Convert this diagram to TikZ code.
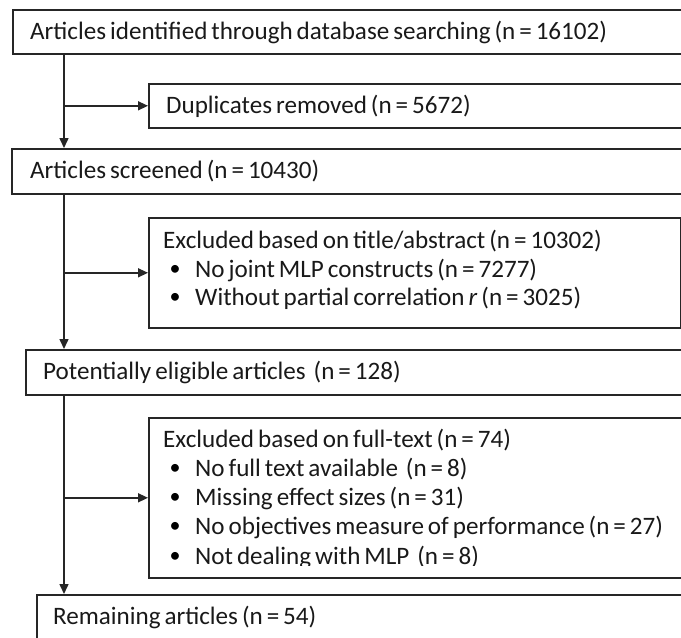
\documentclass[tikz,border=0pt]{standalone}
\usepackage{fontspec}
\setmainfont{Carlito}[WordSpace=0.7]
\usetikzlibrary{arrows.meta}
\begin{document}
\begin{tikzpicture}[x=1pt,y=-1pt,
  box/.style={draw=black!85,line width=1.6pt,rectangle,anchor=north west,inner sep=0pt},
  txt/.style={anchor=west,inner sep=0pt,font=\fontsize{25.1}{28}\selectfont,text=black!90},
  dot/.style={anchor=center,inner sep=0pt,font=\fontsize{22}{26}\selectfont},
  arr/.style={draw=black!85,line width=1.5pt,-{Triangle[length=10pt,width=9pt]}},
]
\useasboundingbox (0,0) rectangle (681,638);
\clip (0,0) rectangle (681,638);

% boxes
\node[box,minimum width=690pt,minimum height=44pt] (b1) at (12,9) {};
\node[box,minimum width=560pt,minimum height=44pt] (b2) at (148,83) {};
\node[box,minimum width=690pt,minimum height=45pt] (b3) at (11,148) {};
\node[box,minimum width=532pt,minimum height=110pt] (b4) at (148,217) {};
\node[box,minimum width=680pt,minimum height=45pt] (b5) at (25,349) {};
\node[box,minimum width=560pt,minimum height=160pt] (b6) at (148,417) {};
\node[box,minimum width=680pt,minimum height=60pt] (b7) at (36,594) {};

% texts
\node[txt] (t1) at (30,32) {Articles identified through database searching (n = 16102)};
\node[txt] (t2) at (166,106) {Duplicates removed (n = 5672)};
\node[txt] (t3) at (30,171) {Articles screened (n = 10430)};
\node[txt] (t4a) at (163,241) {Excluded based on title/abstract (n = 10302)};
\node[dot] (d4b) at (175,270) {\textbullet};
\node[txt] (t4b) at (195,270) {No joint MLP constructs (n = 7277)};
\node[dot] (d4c) at (175,298) {\textbullet};
\node[txt] (t4c) at (195,298) {Without partial correlation \textit{r} (n = 3025)};
\node[txt] (t5) at (43,372) {Potentially eligible articles\ \ (n = 128)};
\node[txt] (t6a) at (163,440) {Excluded based on full-text (n = 74)};
\node[dot] (d6b) at (175,469) {\textbullet};
\node[txt] (t6b) at (195,469) {No full text available\ \ (n = 8)};
\node[dot] (d6c) at (175,498) {\textbullet};
\node[txt] (t6c) at (195,498) {Missing effect sizes (n = 31)};
\node[dot] (d6d) at (175,527) {\textbullet};
\node[txt] (t6d) at (195,527) {No objectives measure of performance (n = 27)};
% the last line is cut off just above the box edge
\begin{scope}
  \clip (148,417) rectangle (681,565);
  \node[dot] (d6e) at (175,557) {\textbullet};
  \node[txt] (t6e) at (195,557) {Not dealing with MLP\ \ (n = 8)};
\end{scope}
\node[txt] (t7) at (53,617) {Remaining articles (n = 54)};

% main flow line and branches
\coordinate (spine) at (64,0);
\draw[arr] (b1.south -| spine) -- (b3.north -| spine);
\draw[arr] (spine |- b2.west) -- (b2.west);
\draw[arr] (b3.south -| spine) -- (b5.north -| spine);
\draw[arr] (spine |- b4.west) -- (b4.west);
\draw[arr] (b5.south -| spine) -- (b7.north -| spine);
\draw[arr] (spine |- b6.west) -- (b6.west);
\end{tikzpicture}
\end{document}
